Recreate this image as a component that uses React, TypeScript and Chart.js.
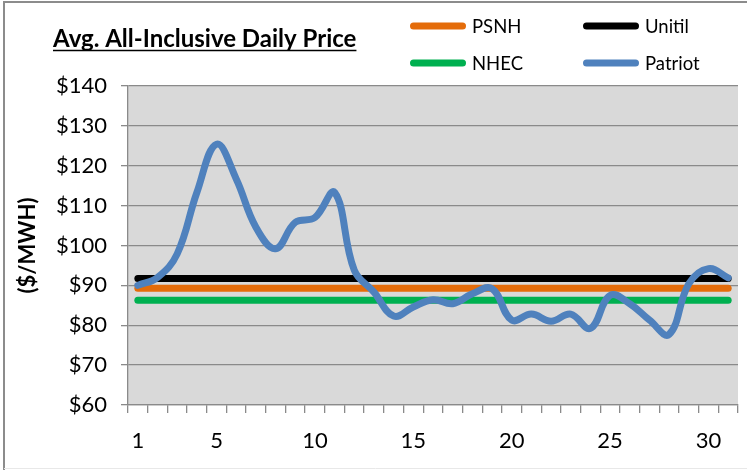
import React, { useEffect, useRef } from 'react';
import { Chart, registerables } from 'chart.js';

Chart.register(...registerables);

const days = ['1','2','3','4','5','6','7','8','9','10','11','12','13','14','15','16','17','18','19','20','21','22','23','24','25','26','27','28','29','30','31'];
const shownDayLabels = ['1','5','10','15','20','25','30'];

const psnhRate = 89.3;
const unitilRate = 91.7;
const nhecRate = 86.3;
const patriotDaily = [90, 92, 97.9, 113.3, 125.4, 116.7, 104.6, 99.2, 105.8, 107, 113.3, 93.8, 88.3, 82.3, 84.6, 86.4, 85.4, 87.9, 89.2, 81.3, 82.8, 81, 82.8, 79.2, 87.5, 85.4, 81.3, 77.7, 90.4, 94.2, 91.9];

const seriesNames = ['PSNH', 'Unitil', 'NHEC', 'Patriot'];
const seriesColors = ['#E46C0A', '#000000', '#00B050', '#4F81BD'];

const yMin = 60;
const yMax = 140;
const yStep = 10;

const titleText = 'Avg. All-Inclusive Daily Price';
const yTitleText = '($/MWH)';

const FONT = 'Lato, "Open Sans", sans-serif';
const GRID = '#8a8a8a';

const decor = {
  id: 'decor',
  beforeDraw(chart: any) {
    const { ctx, chartArea: a } = chart;
    ctx.save();
    ctx.fillStyle = '#ffffff';
    ctx.fillRect(0, 0, chart.width, chart.height);
    ctx.fillStyle = '#D9D9D9';
    ctx.fillRect(a.left, a.top, a.right - a.left, a.bottom - a.top);
    ctx.strokeStyle = '#8c8c8c';
    ctx.lineWidth = 2;
    ctx.beginPath();
    ctx.moveTo(4, chart.height);
    ctx.lineTo(4, 2);
    ctx.lineTo(chart.width, 2);
    ctx.stroke();
    ctx.strokeStyle = '#e8e8e8';
    ctx.lineWidth = 1;
    ctx.beginPath();
    ctx.moveTo(4, 468.5);
    ctx.lineTo(chart.width, 468.5);
    ctx.stroke();
    ctx.restore();
  },
  afterDraw(chart: any) {
    const { ctx } = chart;
    ctx.save();
    // title
    let size = 20;
    ctx.font = `bold ${size}px ${FONT}`;
    const w0 = ctx.measureText(titleText).width;
    size = Math.min(24, Math.max(16, (size * 326) / w0));
    ctx.font = `bold ${size}px ${FONT}`;
    ctx.fillStyle = '#000';
    ctx.textAlign = 'left';
    ctx.textBaseline = 'alphabetic';
    const tx = 53;
    const ty = 47;
    ctx.fillText(titleText, tx, ty);
    const tw = ctx.measureText(titleText).width;
    ctx.strokeStyle = '#000';
    ctx.lineWidth = 1.6;
    ctx.beginPath();
    ctx.moveTo(tx, ty + 3.5);
    ctx.lineTo(tx + tw, ty + 3.5);
    ctx.stroke();

    // legend (2 x 2)
    const colX = [410, 583];
    const rowY = [26, 63];
    ctx.font = `18.5px ${FONT}`;
    ctx.textBaseline = 'middle';
    chart.data.datasets.forEach((ds: any, i: number) => {
      const x = colX[i % 2];
      const y = rowY[Math.floor(i / 2)];
      ctx.strokeStyle = ds.borderColor;
      ctx.lineWidth = 7;
      ctx.lineCap = 'round';
      ctx.beginPath();
      ctx.moveTo(x + 3.5, y);
      ctx.lineTo(x + 52.5, y);
      ctx.stroke();
      ctx.fillStyle = '#000';
      ctx.fillText(ds.label, x + 62, y + 1);
    });
    ctx.restore();
  },
};

export default function App() {
  const ref = useRef<HTMLCanvasElement | null>(null);

  useEffect(() => {
    document.body.style.margin = '0';
    const canvas = ref.current;
    if (!canvas) return;
    const values = [
      days.map(() => psnhRate),
      days.map(() => unitilRate),
      days.map(() => nhecRate),
      patriotDaily,
    ];
    const chart = new Chart(canvas, {
      type: 'line',
      data: {
        labels: days,
        datasets: seriesNames.map((name, i) => ({
          label: name,
          data: values[i],
          borderColor: seriesColors[i],
          backgroundColor: seriesColors[i],
          borderWidth: 7,
          borderCapStyle: 'round',
          borderJoinStyle: 'round',
          pointRadius: 0,
          tension: name === 'Patriot' ? 0.4 : 0,
          fill: false,
          order: name === 'Patriot' ? 0 : i + 1,
        })),
      },
      options: {
        animation: false,
        responsive: false,
        devicePixelRatio: 1,
        events: [],
        layout: { padding: { top: 86, right: 9, left: 0, bottom: 0 } },
        plugins: {
          legend: { display: false },
          title: { display: false },
          tooltip: { enabled: false },
        },
        scales: {
          x: {
            type: 'category',
            offset: true,
            grid: {
              offset: true,
              drawOnChartArea: false,
              drawTicks: true,
              tickLength: 8,
              color: GRID,
              lineWidth: 1.3,
            },
            border: { display: true, color: GRID, width: 1.3 },
            ticks: {
              autoSkip: false,
              maxRotation: 0,
              minRotation: 0,
              padding: 15,
              color: '#000',
              font: { family: FONT, size: 22 },
              callback: (_v: any, i: number) => (shownDayLabels.includes(days[i]) ? days[i] : ''),
            },
            afterFit: (s: any) => {
              s.height = 65;
            },
          },
          y: {
            min: yMin,
            max: yMax,
            ticks: {
              stepSize: yStep,
              padding: 14,
              color: '#000',
              font: { family: FONT, size: 22 },
              callback: (v: any) => '$' + v,
            },
            grid: { color: GRID, lineWidth: 1.3, tickLength: 7 },
            border: { display: true, color: GRID, width: 1.3 },
            title: {
              display: true,
              text: yTitleText,
              color: '#000',
              font: { family: FONT, size: 22, weight: 'bold' },
              padding: { top: 15, bottom: 0 },
            },
            afterFit: (s: any) => {
              s.width = 128;
            },
          },
        },
      },
      plugins: [decor],
    } as any);
    return () => chart.destroy();
  }, []);

  return (
    <div style={{ position: 'fixed', left: 0, top: 0, width: 747, height: 470 }}>
      <canvas ref={ref} width={747} height={470} style={{ display: 'block' }} />
    </div>
  );
}
